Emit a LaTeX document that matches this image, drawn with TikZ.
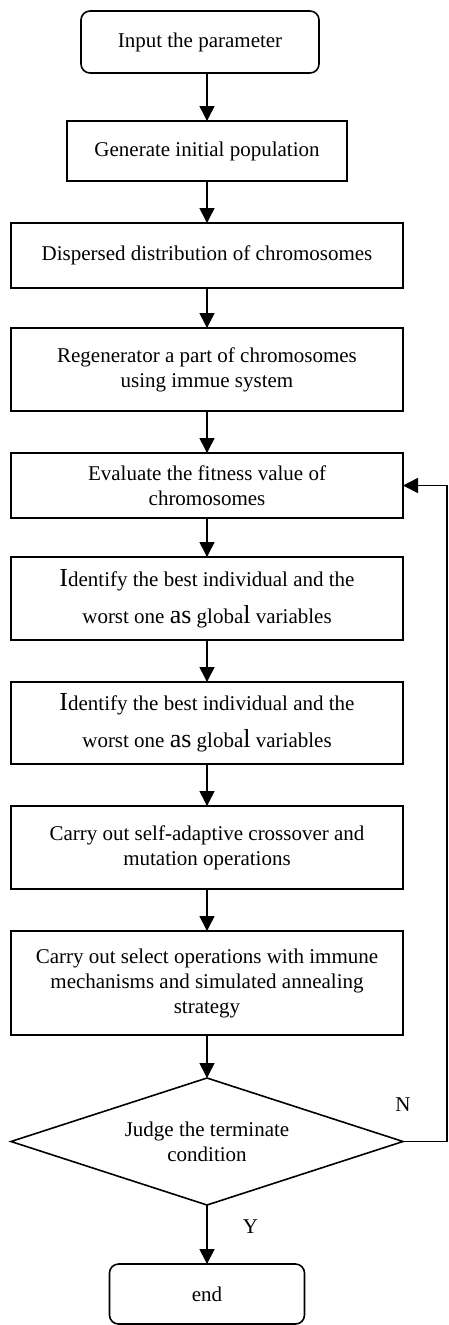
\documentclass[tikz,border=0pt]{standalone}
\usepackage{fontspec}
\setmainfont{Liberation Serif}
\usetikzlibrary{positioning,shapes.geometric,arrows.meta}

\newcommand{\biglt}[1]{{\fontsize{26}{25}\selectfont #1}}

\tikzset{
	every node/.style={font=\fontsize{21}{25}\selectfont},
	process/.style={draw, rectangle, line width=1.6pt, outer sep=0pt, minimum width=392pt, align=center, inner sep=0pt},
	terminal/.style={draw, rectangle, rounded corners=9pt, line width=1.6pt, outer sep=0pt, align=center, inner sep=0pt},
	decision/.style={draw, diamond, aspect=3, line width=1.6pt, outer sep=0pt, minimum width=392pt, minimum height=127pt, inner sep=0pt, align=center},
	flow/.style={-{Triangle[width=15pt,length=15pt]}, line width=1.6pt},
	answer/.style={inner sep=0pt}
}

\begin{document}
\begin{tikzpicture}
	\useasboundingbox (0,0) rectangle (448pt,-1325pt);
	% Nodes
	% Start
	\node[terminal, minimum width=238pt, minimum height=62pt] (input) at (200pt,-42pt) {Input the parameter};
	% Population
	\node[process, minimum width=280pt, minimum height=60pt, below=48pt of input, xshift=7pt] (init) {Generate initial population};
	\node[process, minimum height=65pt, below=42pt of init] (disperse) {Dispersed distribution of chromosomes};
	\node[process, minimum height=83pt, below=40pt of disperse] (regen) {Regenerator a part of chromosomes\\using immue system};
	% Loop body
	\node[process, minimum height=65pt, below=42pt of regen] (eval) {Evaluate the fitness value of\\chromosomes};
	\node[process, minimum height=83pt, below=39pt of eval] (ident-a) {\biglt{I}dentify the best individual and the\\[12pt]worst one \biglt{as} globa\biglt{l} variables};
	\node[process, minimum height=82pt, below=42pt of ident-a] (ident-b) {\biglt{I}dentify the best individual and the\\[12pt]worst one \biglt{as} globa\biglt{l} variables};
	\node[process, minimum height=83pt, below=42pt of ident-b] (cross) {Carry out self-adaptive crossover and\\mutation operations};
	\node[process, minimum height=104pt, below=42pt of cross] (select) {Carry out select operations with immune\\mechanisms and simulated annealing\\strategy};
	% Decision
	\node[decision, below=43pt of select] (judge) {Judge the terminate\\condition};
	% Stop
	\node[terminal, minimum width=195pt, minimum height=60pt, below=59pt of judge] (stop) {end};
	
	% Edges
	\draw[flow] (input.south -| init.north) -- (init.north);
	\foreach \from/\to in {init/disperse, disperse/regen, regen/eval, eval/ident-a, ident-a/ident-b, ident-b/cross, cross/select, select/judge}
		\draw[flow] (\from) -- (\to);
	% Y branch
	\draw[flow] (judge.south) -- node[answer, right=35pt, yshift=8pt] (yes) {Y} (stop.north);
	% N branch back to evaluation
	\coordinate[right=44pt of judge.east] (back);
	\draw[flow] (judge.east) -- (back) |- (eval.east);
	\node[answer, above=30pt of judge.east] (no) {N};
\end{tikzpicture}
\end{document}
